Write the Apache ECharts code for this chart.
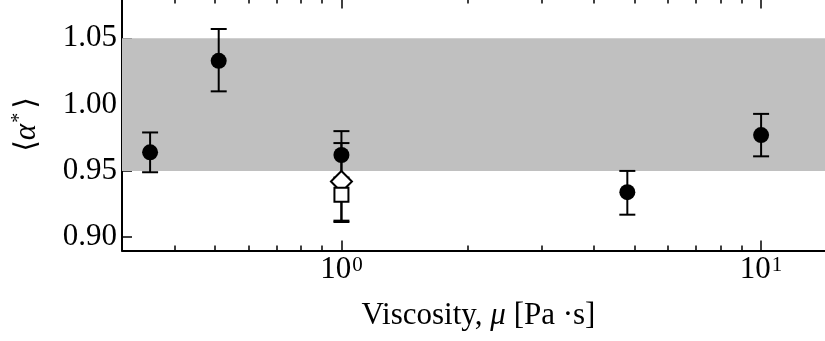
<!DOCTYPE html>
<html>
<head>
<meta charset="utf-8">
<script src="https://cdn.jsdelivr.net/npm/echarts@6/dist/echarts.min.js"></script>
<style>
  html, body { margin: 0; padding: 0; background: #fff; }
  #chart { width: 825px; height: 341px; }
</style>
</head>
<body>
<div id="chart"></div>
<script>
// Mean normalised coefficient vs. fluid viscosity
const viscosity = [0.35, 0.51, 1.0, 4.8, 10];
const alphaMean = [0.964, 1.033, 0.962, 0.934, 0.977];
const alphaLow  = [0.949, 1.010, 0.944, 0.917, 0.961];
const alphaHigh = [0.979, 1.057, 0.980, 0.950, 0.993];

// Extra runs at 1 Pa·s (open diamond, open square)
const diamondX = [1.0];
const diamondMean = [0.942];
const diamondLow = [0.9125];
const diamondHigh = [0.971];

const squareX = [1.0];
const squareMean = [0.932];
const squareLow = [0.9115];
const squareHigh = [0.945];

// Shaded band
const bandLow = 0.95;
const bandHigh = 1.05;

// Axis ticks
const xMajorTicks = [1, 10];
const xMinorTicks = [0.4, 0.5, 0.6, 0.7, 0.8, 0.9, 2, 3, 4, 5, 6, 7, 8, 9];
const yTicks = [0.90, 0.95, 1.00, 1.05];
const xRange = [0.3, 15];
const yRange = [0.89, 1.08];

const FONT = '"Liberation Serif", "Times New Roman", serif';

function zip3(xs, lo, hi) { return xs.map((x, i) => [x, lo[i], hi[i]]); }
function zip2(xs, ys) { return xs.map((x, i) => [x, ys[i]]); }

const errData = zip3(viscosity, alphaLow, alphaHigh)
  .concat(zip3(diamondX, diamondLow, diamondHigh))
  .concat(zip3(squareX, squareLow, squareHigh));

function errorBar(params, api) {
  const x = api.value(0);
  const top = api.coord([x, api.value(2)]);
  const bot = api.coord([x, api.value(1)]);
  const hw = 8;
  const st = { stroke: '#000', lineWidth: 2 };
  return {
    type: 'group',
    children: [
      { type: 'line', shape: { x1: top[0], y1: top[1], x2: bot[0], y2: bot[1] }, style: st },
      { type: 'line', shape: { x1: top[0] - hw, y1: top[1], x2: top[0] + hw, y2: top[1] }, style: st },
      { type: 'line', shape: { x1: bot[0] - hw, y1: bot[1], x2: bot[0] + hw, y2: bot[1] }, style: st }
    ]
  };
}

function xAxisDef(position, values, len, showLabel, showLine) {
  return {
    type: 'log',
    logBase: 10,
    position: position,
    min: xRange[0],
    max: xRange[1],
    axisLine: { show: showLine, onZero: false, lineStyle: { color: '#000', width: 2 } },
    axisTick: { show: true, inside: true, length: len, customValues: values, lineStyle: { color: '#000', width: 1.5 } },
    axisLabel: showLabel ? {
      show: true,
      customValues: values,
      margin: 4,
      formatter: v => '{b|10}{s|' + Math.round(Math.log10(v)) + '}',
      rich: {
        b: { fontFamily: FONT, fontSize: 31, lineHeight: 31, color: '#000' },
        s: { fontFamily: FONT, fontSize: 21, lineHeight: 21, color: '#000', verticalAlign: 'top', padding: [0, 0, 0, 1] }
      }
    } : { show: false },
    splitLine: { show: false },
    minorTick: { show: false },
    minorSplitLine: { show: false }
  };
}

function yAxisDef(position, showLabel) {
  return {
    type: 'value',
    position: position,
    min: yRange[0],
    max: yRange[1],
    axisLine: { show: true, onZero: false, lineStyle: { color: '#000', width: 2 } },
    axisTick: { show: true, inside: true, length: 10, customValues: yTicks, lineStyle: { color: '#000', width: 1.5 } },
    axisLabel: showLabel ? {
      show: true,
      customValues: yTicks,
      margin: 5,
      formatter: v => v.toFixed(2),
      fontFamily: FONT,
      fontSize: 31,
      color: '#000'
    } : { show: false },
    splitLine: { show: false }
  };
}

const xMain = xAxisDef('bottom', xMajorTicks, 10, true, true);
xMain.name = '{t|Viscosity, }{i|μ}{t| [Pa ·s]}';
xMain.nameLocation = 'middle';
xMain.nameGap = 50;
xMain.nameMoveOverlap = false;
xMain.nameTextStyle = {
  rich: {
    t: { fontFamily: FONT, fontSize: 31, lineHeight: 31, color: '#000' },
    i: { fontFamily: FONT, fontSize: 31, lineHeight: 31, color: '#000', fontStyle: 'italic' }
  }
};

const yMain = yAxisDef('left', true);
yMain.name = '{b|⟨}{a|α}{s|*}{b|⟩}';
yMain.nameLocation = 'middle';
yMain.nameRotate = 90;
yMain.nameGap = 78;
yMain.nameMoveOverlap = false;
yMain.nameTextStyle = {
  rich: {
    b: { fontFamily: '"DejaVu Serif", ' + FONT, fontSize: 30, color: '#000' },
    a: { fontFamily: FONT, fontSize: 31, color: '#000', fontStyle: 'italic' },
    s: { fontFamily: FONT, fontSize: 20, color: '#000', verticalAlign: 'top', padding: [0, 4, 14, 1] }
  }
};

const option = {
  animation: false,
  backgroundColor: '#fff',
  grid: {
    left: 122, top: -1.5, width: 713, height: 252,
    containLabel: false,
    outerBoundsMode: 'none'
  },
  xAxis: [
    xMain,
    xAxisDef('bottom', xMinorTicks, 5, false, false),
    xAxisDef('top', xMajorTicks, 10, false, true),
    xAxisDef('top', xMinorTicks, 5, false, false)
  ],
  yAxis: [
    yMain,
    yAxisDef('right', false)
  ],
  series: [
    {
      name: 'band',
      type: 'line',
      data: [],
      z: 0,
      markArea: {
        silent: true,
        itemStyle: { color: '#c0c0c0', opacity: 1 },
        data: [[{ yAxis: bandLow }, { yAxis: bandHigh }]]
      }
    },
    {
      name: 'errors',
      type: 'custom',
      renderItem: errorBar,
      encode: { x: 0, y: [1, 2] },
      data: errData,
      z: 2
    },
    {
      name: 'mean',
      type: 'scatter',
      symbol: 'circle',
      symbolSize: 16,
      itemStyle: { color: '#000', opacity: 1 },
      data: zip2(viscosity, alphaMean),
      z: 3
    },
    {
      name: 'diamond',
      type: 'scatter',
      symbol: 'diamond',
      symbolSize: [21, 21],
      itemStyle: { color: '#fff', borderColor: '#000', borderWidth: 2, opacity: 1 },
      data: zip2(diamondX, diamondMean),
      z: 4
    },
    {
      name: 'square',
      type: 'scatter',
      symbol: 'rect',
      symbolSize: 14,
      itemStyle: { color: '#fff', borderColor: '#000', borderWidth: 2, opacity: 1 },
      data: zip2(squareX, squareMean),
      z: 5
    }
  ]
};

const chart = echarts.init(document.getElementById('chart'), null, { renderer: 'canvas' });
chart.setOption(option);
</script>
</body>
</html>
